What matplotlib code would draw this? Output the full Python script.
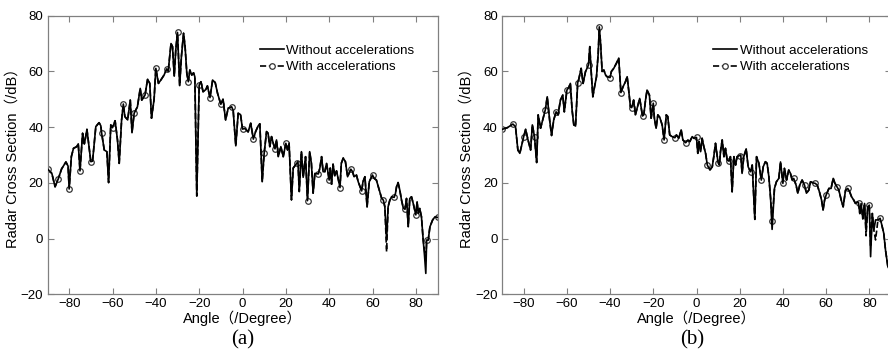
import matplotlib
matplotlib.use("Agg")
import matplotlib.pyplot as plt

plt.rcParams['font.family'] = ['Liberation Sans', 'Noto Sans CJK SC', 'DejaVu Sans']

# ---- panel (a): angle (deg) / RCS (dB) ----
angle_a = [-90, -88, -86.5, -85, -83.5, -81.5, -80.5, -80, -79, -78, -76.5, -75.8, -75,
           -73.8, -73, -72.5, -71.8, -71.2, -70, -69.2, -67.7, -66.2, -65.4, -65, -63.8,
           -62.6, -61.8, -60.8, -60, -58.8, -57.7, -56.9, -55.8, -55, -54.3, -53, -51.8,
           -51, -50, -48.5, -47.2, -46.5, -45, -43.8, -42.8, -42, -40.8, -40, -38.8, -37.7,
           -36.2, -35, -34.3, -33, -32.3, -31.5, -30.8, -30, -29, -28.2, -27.2, -26.5,
           -25.7, -25, -24.3, -23.4, -22.6, -22, -21.1, -20, -19.2, -18.2, -16.9, -16.2,
           -15, -13.8, -12.6, -11.5, -10, -9, -7.8, -6.6, -5, -4.3, -3.1, -2, -0.9, 0,
           1.1, 2.6, 3.8, 5, 6, 7.2, 8, 9.1, 10, 11.1, 11.8, 12.6, 13.4, 14.2, 15, 15.7,
           16.5, 17.7, 18.8, 20, 20.8, 21.5, 22.6, 23.4, 25, 25.6, 26.2, 27.2, 28, 29.1,
           30, 31, 31.8, 32.6, 33.4, 35, 35.7, 36.5, 37.2, 38, 38.8, 40, 40.5, 41.1, 41.8,
           42.6, 43.4, 45, 45.6, 46.5, 47.5, 48.5, 50, 50.8, 51.5, 52.6, 53.4, 55, 55.6,
           56.5, 57.5, 58.5, 60, 60.8, 61.8, 63.1, 64.2, 65, 65.7, 66.5, 67.2, 68, 68.8,
           70, 70.6, 71.1, 71.8, 72.6, 73.4, 74.2, 75, 75.7, 76.5, 77.2, 78, 78.8, 80,
           80.6, 81.1, 81.8, 82.6, 83.4, 84, 84.6, 85, 85.7, 86.5, 87.7, 88.8, 90]
rcs_a = [25, 23.4, 18.6, 21.5, 25, 27.5, 26, 17.8, 29.4, 32.4, 33, 34, 24.3,
         37.8, 34, 36, 39.2, 35.4, 27.6, 27.8, 40.2, 41.6, 40.5, 37.8, 31.8,
         31.2, 20.1, 40.8, 39.8, 42.3, 35.4, 27, 42.6, 48.3, 43.8, 42.6, 49.7,
         38, 45, 47.3, 53.9, 49.7, 51.5, 57.2, 55.7, 43.2, 50, 61.1, 55.7, 56.9,
         58.7, 60.9, 60, 70, 68.9, 58.3, 67.7, 74, 54.9, 65.3, 73.7, 68.9,
         59.3, 56.3, 60.5, 58.7, 59.5, 58.1, 15.3, 55.1, 56.3, 52.7, 53.5, 54.8,
         50.6, 56.9, 56, 52.1, 48.2, 50, 42.6, 46.8, 47.3, 46, 33.3, 45, 44.5, 39.3,
         39.5, 38.3, 41.4, 35.7, 38.3, 40.4, 41.2, 20.4, 30.6, 38.4, 37.8, 33, 36.6, 34.2, 32.2, 35.4,
         29.4, 33, 29.4, 34.2, 31.8, 34.2, 13.9, 25.3, 27, 27.6, 16.9, 31.2, 22, 29.4,
         13.6, 31.2, 27, 16.3, 23.4, 23.2, 25.3, 29.4, 24, 24, 27, 21, 25.3, 19.5, 26.7,
         22.5, 24.3, 18.3, 27, 28.9, 27.6, 22.2, 24.9, 24, 22.2, 22.8, 20.4, 17.1, 20.4,
         22.2, 11.4, 20.4, 22.8, 21.6, 21, 17.4, 14.5, 13.8, 11.4, -0.5, 11.4, 13.8, 15,
         14.8, 16.2, 18.6, 20.1, 17.4, 13.8, 11, 10.5, 14.4, 4.3, 14.4, 15, 12.6, 8.5,
         13.2, 9, 10.8, 7.8, -0.6, -6, -12.5, -0.5, -0.6, 4.2, 6.6, 7.8, 7.6]
# points where the "with accelerations" curve departs from the other one
acc_diff_a = {66.5: -4.7, 84.6: -8.0, 84: -4.0}

# ---- panel (b) ----
angle_b = [-90, -87.6, -85, -83.8, -82.7, -81.8, -80, -79.1, -78, -76.8, -76, -75, -74,
           -73.3, -72.2, -71, -70, -69.1, -68, -67.1, -66.1, -65, -64.1, -63, -61.9,
           -61.2, -60, -59.1, -58.4, -57.6, -56.8, -56, -55, -54.5, -53.4, -52.5, -51.4,
           -50, -49.4, -48.8, -48, -47.2, -46.3, -45.5, -45, -44.4, -43.7, -42.9, -42.1,
           -41.4, -40, -39.4, -38.3, -37.1, -36, -35, -34, -32.9, -32.1, -31.4, -30.6,
           -30, -29.1, -28.3, -27.5, -26.3, -25, -24.4, -23.6, -22.9, -21.8, -21, -20,
           -19.5, -18.7, -17.9, -17, -15.9, -15, -14, -13.3, -12.4, -11.3, -10, -9.3,
           -8.2, -7.1, -6.3, -5, -4, -3.1, -2, -1.2, 0, 0.6, 1.2, 1.9, 2.6, 3.4, 4.2, 5,
           6.2, 7.3, 8, 8.8, 10, 10.6, 11.1, 11.9, 12.7, 13.4, 14.2, 15, 15.7, 16.5, 17.3,
           18.1, 18.8, 20, 20.5, 21.1, 21.9, 23, 23.9, 25, 25.8, 27, 27.8, 28.9, 30, 30.9,
           31.9, 32.7, 33.5, 34.3, 35, 36.1, 37, 38.1, 38.9, 40, 40.7, 41.7, 42.7, 43.5,
           44.3, 45, 46.1, 46.9, 47.8, 48.9, 50, 50.9, 52, 52.8, 53.9, 55, 55.9, 56.9,
           57.9, 58.6, 59.3, 60, 61.3, 62.3, 63.3, 64, 65, 65.9, 67, 67.9, 69, 70, 70.8,
           71.8, 72.8, 73.6, 74.4, 75, 75.6, 76.2, 77, 77.8, 78.5, 79.3, 80, 80.6, 81.4,
           82.1, 82.9, 84, 85, 85.6, 86.7, 87.5, 88.6, 90]
rcs_b = [39.2, 39.8, 41.1, 40.2, 31.8, 30.6, 36.6, 39.2, 35.4, 31.8, 40.8, 36.6, 27.3,
         44.4, 39.6, 43.2, 46.2, 50.9, 42.6, 37, 42.6, 45.5, 44.4, 49.7, 51.5,
         45.5, 53.3, 54.3, 55.7, 46.2, 40.8, 40.4, 56, 57.2, 61.1, 55.7, 59.9,
         62.3, 68.9, 60.5, 50.9, 54.5, 58.1, 66.5, 76, 70.1, 60, 60.5, 58.7,
         58.1, 57.8, 60, 61.1, 62.9, 64.7, 52.4, 54.5, 56.3, 58.1, 53.3, 47.3,
         47, 49.7, 44.4, 46.8, 50.3, 44, 44.4, 49.7, 53.3, 51.5, 43.2, 48.6,
         43.2, 39.6, 44.4, 43.5, 40.8, 35.4, 44.4, 43.8, 37.2, 36.6, 36.2, 37.2,
         36, 39, 35.4, 34.4, 35.4, 34.8, 36.6, 36, 36.3, 30.6, 34.8, 31.2, 36, 33, 30.6, 26.4,
         24.6, 25.8, 29.4, 34.2, 27.2, 26.4, 31.2, 35.4, 29.4, 32.4, 28.2, 27.8, 29.4, 16.8, 29.4,
         26.4, 29.4, 29.8, 30, 23.4, 29.4, 32.2, 25.8, 24, 26.4, 6.9, 29.4, 27, 21, 25.8,
         27.6, 27, 22.2, 14.5, 3.3, 18, 20.4, 21.6, 27.5, 19.8, 25.2, 21, 24.6, 23.4,
         21, 21.6, 19.2, 16.3, 19.2, 21, 19.2, 16.3, 17.4, 20.4, 20, 19.8, 19.2, 16.8,
         13.8, 10.3, 13.8, 15.6, 18, 18, 21.6, 20, 18.6, 17.4, 13.8, 11.4, 17.4, 18, 17,
         15, 13.8, 12.6, 13.2, 12.9, 9, 12.6, 7.1, 12.6, 3.1, 11.4, 12, -6.5, 9,
         3.1, 6.7, 6.7, 7.3, 5.5, 1.9, -4.1, -10.1, -12]
acc_diff_b = {35: 6.4, 78.5: 1.0, 80.6: -3.0, 82.9: -0.5, 90: -8.0}

panels = [
    ("(a)", angle_a, rcs_a, acc_diff_a, [47.5, 437.5], 243),
    ("(b)", angle_b, rcs_b, acc_diff_b, [502.1, 890.9], 692),
]

W, H = 888, 360
fig = plt.figure(figsize=(W / 100, H / 100), dpi=100)
ax_bottom, ax_top = 294.3, 15.7
gray = "#808080"

for tag, ang, rcs, diff, (x0, x1), tag_x in panels:
    ax = fig.add_axes([x0 / W, (H - ax_bottom) / H, (x1 - x0) / W, (ax_bottom - ax_top) / H])
    acc = [diff.get(t, v) for t, v in zip(ang, rcs)]
    marks = [i for i, t in enumerate(ang) if t % 5 == 0]
    ax.plot(ang, acc, ls="--", color="black", lw=1.2, marker="o", markevery=marks,
            ms=4, mfc="white", mec="#333333", mew=0.9, label="With accelerations", zorder=2)
    ax.plot(ang, rcs, ls="-", color="black", lw=1.2, label="Without accelerations", zorder=3)

    ax.set_xlim(-90, 90)
    ax.set_ylim(-20, 80)
    ax.set_xticks(range(-80, 81, 20))
    ax.set_yticks(range(-20, 81, 20))
    ax.tick_params(direction="in", top=True, right=True, length=4, width=0.8,
                   color=gray, labelsize=9.5, pad=3)
    for sp in ax.spines.values():
        sp.set_color(gray)
        sp.set_linewidth(0.9)
    ax.set_xlabel("Angle（/Degree）", fontsize=10.5, labelpad=0)
    ax.set_ylabel("Radar Cross Section（/dB）", fontsize=10.5, labelpad=1)

    h, l = ax.get_legend_handles_labels()
    ax.legend(h[::-1], l[::-1], loc="upper right", frameon=False, fontsize=9.6,
              handlelength=1.8, handletextpad=0.2, labelspacing=0.3,
              borderaxespad=0, bbox_to_anchor=(0.955, 0.915))
    fig.text(tag_x / W, (H - 340) / H, tag, family="Liberation Serif",
             fontsize=15, ha="center", va="center")

fig.savefig("out.png", dpi=100)
